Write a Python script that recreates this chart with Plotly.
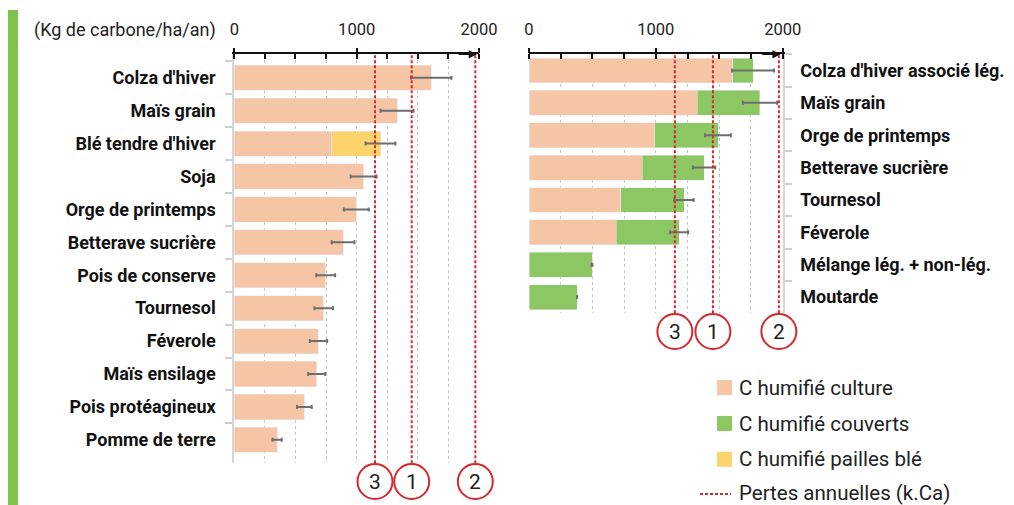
import plotly.graph_objects as go

# ---------------- data ----------------
cats_left = ["Colza d'hiver", "Maïs grain", "Blé tendre d'hiver", "Soja", "Orge de printemps",
             "Betterave sucrière", "Pois de conserve", "Tournesol", "Féverole", "Maïs ensilage",
             "Pois protéagineux", "Pomme de terre"]
culture_left = [1610, 1330, 795, 1057, 997, 889, 747, 731, 688, 674, 573, 350]
pailles_left = [0, 0, 400, 0, 0, 0, 0, 0, 0, 0, 0, 0]
err_left = [165, 135, 122, 106, 102, 93, 77, 76, 71, 70, 60, 38]

cats_right = ["Colza d'hiver associé lég.", "Maïs grain", "Orge de printemps", "Betterave sucrière",
              "Tournesol", "Féverole", "Mélange lég. + non-lég.", "Moutarde"]
culture_right = [1608, 1325, 993, 891, 725, 686, 0, 0]
couverts_right = [158, 496, 497, 489, 497, 497, 497, 379]
err_right = [165, 135, 102, 88, 76, 72, 3, 0]

pertes_vals = [1450, 1970, 1150]
pertes_labels = ["1", "2", "3"]

x_range = [0, 2000]
x_ticks = [0, 250, 500, 750, 1000, 1250, 1500, 1750, 2000]
x_ticktext = ["0", "", "", "", "1000", "", "", "", "2000"]

legend_labels = ["C humifié culture", "C humifié couverts", "C humifié pailles blé", "Pertes annuelles (k.Ca)"]

# ---------------- style ----------------
C_CULT = "#F5C5A5"
C_COUV = "#8CC763"
C_PAIL = "#FDD46B"
C_RED = "#D42A2D"
C_ERR = "#6E6E6E"
FONT = "Roboto"
W, H = 1014, 505

def px(x):
    return x / W

def py(y):
    return 1 - y / H

tot_left = [a + b for a, b in zip(culture_left, pailles_left)]
tot_right = [a + b for a, b in zip(culture_right, couverts_right)]

fig = go.Figure()

# left panel bars
fig.add_trace(go.Bar(y=cats_left, x=culture_left, orientation="h", marker_color=C_CULT,
                     xaxis="x", yaxis="y", showlegend=False, hoverinfo="skip"))
fig.add_trace(go.Bar(y=cats_left, x=pailles_left, orientation="h", marker_color=C_PAIL,
                     xaxis="x", yaxis="y", showlegend=False, hoverinfo="skip"))
fig.add_trace(go.Scatter(y=cats_left, x=tot_left, mode="markers", marker=dict(size=1, opacity=0),
                         error_x=dict(type="data", array=err_left, color=C_ERR, thickness=2, width=2),
                         xaxis="x", yaxis="y", showlegend=False, hoverinfo="skip"))

# right panel bars
fig.add_trace(go.Bar(y=cats_right, x=culture_right, orientation="h", marker_color=C_CULT,
                     xaxis="x2", yaxis="y2", showlegend=False, hoverinfo="skip"))
fig.add_trace(go.Bar(y=cats_right, x=couverts_right, orientation="h", marker_color=C_COUV,
                     xaxis="x2", yaxis="y2", showlegend=False, hoverinfo="skip"))
fig.add_trace(go.Scatter(y=cats_right, x=tot_right, mode="markers", marker=dict(size=1, opacity=0),
                         error_x=dict(type="data", array=err_right, color=C_ERR, thickness=2, width=2),
                         xaxis="x2", yaxis="y2", showlegend=False, hoverinfo="skip"))

# red loss lines (full height of each panel)
for xa, ya in (("x", "y3"), ("x2", "y4")):
    for v in pertes_vals:
        fig.add_trace(go.Scatter(x=[v, v], y=[0, 1], mode="lines",
                                 line=dict(color=C_RED, width=2, dash="3px,2px"),
                                 xaxis=xa, yaxis=ya, showlegend=False, hoverinfo="skip"))

xcommon = dict(range=x_range, side="top", tickmode="array", tickvals=x_ticks, ticktext=x_ticktext,
               ticks="outside", ticklen=5, tickwidth=1.5, tickcolor="#111111",
               minor=dict(ticks="inside", ticklen=5, tickwidth=1.5, tickcolor="#111111",
                          tickmode="array", tickvals=x_ticks, showgrid=False),
               showline=True, linecolor="#111111", linewidth=1.5,
               showgrid=True, gridcolor="#C4C4C4", griddash="dot", gridwidth=1,
               zeroline=False, fixedrange=True, ticklabelstandoff=6, automargin=False,
               tickfont=dict(family=FONT, size=16.5, color="#222222"))
ycommon = dict(type="category", autorange="reversed", tickson="boundaries", ticks="outside",
               ticklen=7, tickwidth=1.5, tickcolor="#CFCFCF", showline=True, linecolor="#D6D6D6",
               linewidth=2, showgrid=False, zeroline=False, fixedrange=True, automargin=False,
               tickfont=dict(family=FONT, size=18, color="#111111", weight="bold"))

L_px = [234.3, 479]
R_px = [529, 782.7]
L_dom = [px(L_px[0]), px(L_px[1])]
R_dom = [px(R_px[0]), px(R_px[1])]
L_ydom = [py(463.3), py(54.3)]
R_ydom = [py(313.3), py(54.3)]

fig.update_layout(
    width=W, height=H, margin=dict(l=0, r=0, t=0, b=0, pad=0, autoexpand=False),
    paper_bgcolor="white", plot_bgcolor="white",
    barmode="stack", bargap=0.235, showlegend=False,
    xaxis=dict(domain=L_dom, anchor="y", **xcommon),
    yaxis=dict(domain=L_ydom, anchor="x", side="left", ticklabelstandoff=13, **ycommon),
    xaxis2=dict(domain=R_dom, anchor="y2", **xcommon),
    yaxis2=dict(domain=R_ydom, anchor="x2", side="right", ticklabelstandoff=12, **ycommon),
    yaxis3=dict(overlaying="y", anchor="x", range=[0, 1], visible=False, fixedrange=True, automargin=False),
    yaxis4=dict(overlaying="y2", anchor="x2", range=[0, 1], visible=False, fixedrange=True, automargin=False),
)

shapes = []
annotations = []
# green side band
shapes.append(dict(type="rect", xref="paper", yref="paper", x0=px(8), x1=px(18), y0=0, y1=py(10),
                   fillcolor="#7DC350", line_width=0))
# unit title
annotations.append(dict(text="(Kg de carbone/ha/an)", xref="paper", yref="paper", x=px(218), y=py(30),
                        xanchor="right", yanchor="middle", showarrow=False,
                        font=dict(family=FONT, size=18, color="#222222")))
# arrows at axis end
for xr, yr in (("x", "y domain"), ("x2", "y2 domain")):
    annotations.append(dict(x=2000, y=1, xref=xr, yref=yr, text="", showarrow=True, ax=-22, ay=0,
                            axref="pixel", ayref="pixel", arrowhead=2, arrowsize=1.1,
                            arrowwidth=1.5, arrowcolor="#111111", standoff=2))

# numbered circles under the loss lines
R_CIRC = 17.5
for xr, dom_px, cy in (("x", L_px, 481.5), ("x2", R_px, 331.5)):
    span = dom_px[1] - dom_px[0]
    for v, lab in zip(pertes_vals, pertes_labels):
        f = (v - x_range[0]) / (x_range[1] - x_range[0])
        shapes.append(dict(type="circle", xref=xr + " domain", yref="paper",
                           x0=f - R_CIRC / span, x1=f + R_CIRC / span,
                           y0=py(cy + R_CIRC), y1=py(cy - R_CIRC),
                           fillcolor="white", line=dict(color=C_RED, width=2), layer="above"))
        annotations.append(dict(text=lab, xref=xr, yref="paper", x=v, y=py(cy),
                                xanchor="center", yanchor="middle", showarrow=False,
                                font=dict(family=FONT, size=21, color="#222222")))

# manual legend
sw_cols = [C_CULT, C_COUV, C_PAIL]
leg_y = [387.5, 423.5, 459.3, 494]
leg_text_y = [387.5, 423.5, 459.3, 492.5]
for c, yy in zip(sw_cols, leg_y[:3]):
    shapes.append(dict(type="rect", xref="paper", yref="paper", x0=px(717), x1=px(732),
                       y0=py(yy + 7.5), y1=py(yy - 7.5), fillcolor=c, line_width=0))
shapes.append(dict(type="line", xref="paper", yref="paper", x0=px(700), x1=px(731),
                   y0=py(leg_y[3]), y1=py(leg_y[3]), line=dict(color=C_RED, width=2, dash="3px,2px")))
for lab, yy in zip(legend_labels, leg_text_y):
    annotations.append(dict(text=lab, xref="paper", yref="paper", x=px(737), y=py(yy),
                            xanchor="left", yanchor="middle", showarrow=False,
                            font=dict(family=FONT, size=20.5, color="#222222")))

fig.update_layout(shapes=shapes, annotations=annotations)
fig.write_html("out.html", config={"displayModeBar": False},
               post_script="document.body.style.margin='0';document.body.style.padding='0';")
